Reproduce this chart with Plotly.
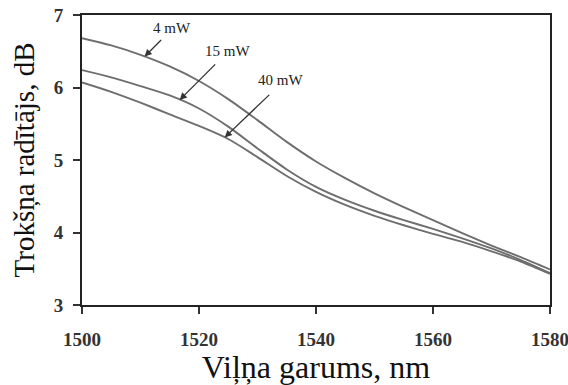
import numpy as np
import plotly.graph_objects as go

# Wavelength grid (nm) and noise figure (dB) for three pump powers
wavelength = [1500, 1505, 1510, 1515, 1520, 1525, 1530, 1535, 1540, 1545,
              1550, 1555, 1560, 1565, 1570, 1575, 1580]
nf_4mw = [6.68, 6.58, 6.45, 6.29, 6.09, 5.84, 5.55, 5.25, 4.98, 4.75,
          4.54, 4.35, 4.17, 3.99, 3.82, 3.66, 3.49]
nf_15mw = [6.24, 6.14, 6.02, 5.89, 5.71, 5.46, 5.16, 4.87, 4.63, 4.45,
           4.30, 4.17, 4.05, 3.92, 3.78, 3.62, 3.44]
nf_40mw = [6.07, 5.94, 5.79, 5.63, 5.47, 5.29, 5.04, 4.78, 4.56, 4.38,
           4.23, 4.10, 3.98, 3.87, 3.74, 3.60, 3.43]

series_names = ["4 mW", "15 mW", "40 mW"]
series_values = [nf_4mw, nf_15mw, nf_40mw]
# wavelength where each label's arrow meets its curve
arrow_x = [1510.7, 1516.7, 1524.4]

x_ticks = [1500, 1520, 1540, 1560, 1580]
y_ticks = [3, 4, 5, 6, 7]

serif = "Liberation Serif"

fig = go.Figure()
for name, vals in zip(series_names, series_values):
    fig.add_trace(go.Scatter(
        x=wavelength, y=vals, mode="lines", name=name,
        line=dict(color="#6e6e6e", width=1.9, shape="spline", smoothing=0.8),
        showlegend=False,
    ))

# arrow offsets (px) from curve point to arrow tail, and label offsets
arrow_offsets = [(18, -18), (37, -37), (46, -44)]
label_offsets = [(27, -29), (48, -49), (56, -57)]
for name, vals, xa, (ax, ay), (lx, ly) in zip(series_names, series_values,
                                              arrow_x, arrow_offsets, label_offsets):
    ya = float(np.interp(xa, wavelength, vals))
    fig.add_annotation(x=xa, y=ya, ax=ax, ay=ay, text="", showarrow=True,
                       arrowhead=2, arrowsize=1.1, arrowwidth=1.3,
                       arrowcolor="#333333")
    fig.add_annotation(x=xa, y=ya, xshift=lx, yshift=-ly, text=name,
                       showarrow=False,
                       font=dict(family=serif, size=15, color="#222222"))

axis_common = dict(
    showline=True, linecolor="#222222", linewidth=2, mirror=True,
    ticks="outside", ticklen=7, tickwidth=1.5, tickcolor="#333333",
    showgrid=False, zeroline=False, ticklabeloverflow="allow",
    tickfont=dict(family=serif, size=19, color="#333333", weight="bold"),
)

fig.update_xaxes(range=[1500, 1580], tickvals=x_ticks,
                 ticktext=[str(v) for v in x_ticks],
                 title=dict(text="Viļņa garums, nm", standoff=7,
                            font=dict(family=serif, size=32, color="#111111")),
                 ticklabelstandoff=9,
                 **axis_common)
fig.update_yaxes(range=[3, 7], tickvals=y_ticks,
                 ticktext=[str(v) for v in y_ticks],
                 title=dict(text="Trokšņa radītājs, dB", standoff=11,
                            font=dict(family=serif, size=29, color="#111111")),
                 ticklabelstandoff=6,
                 **axis_common)

fig.update_layout(
    width=568, height=385,
    margin=dict(l=82, r=18, t=15, b=80, autoexpand=False),
    paper_bgcolor="white", plot_bgcolor="white",
)

fig.write_html("out.html")
